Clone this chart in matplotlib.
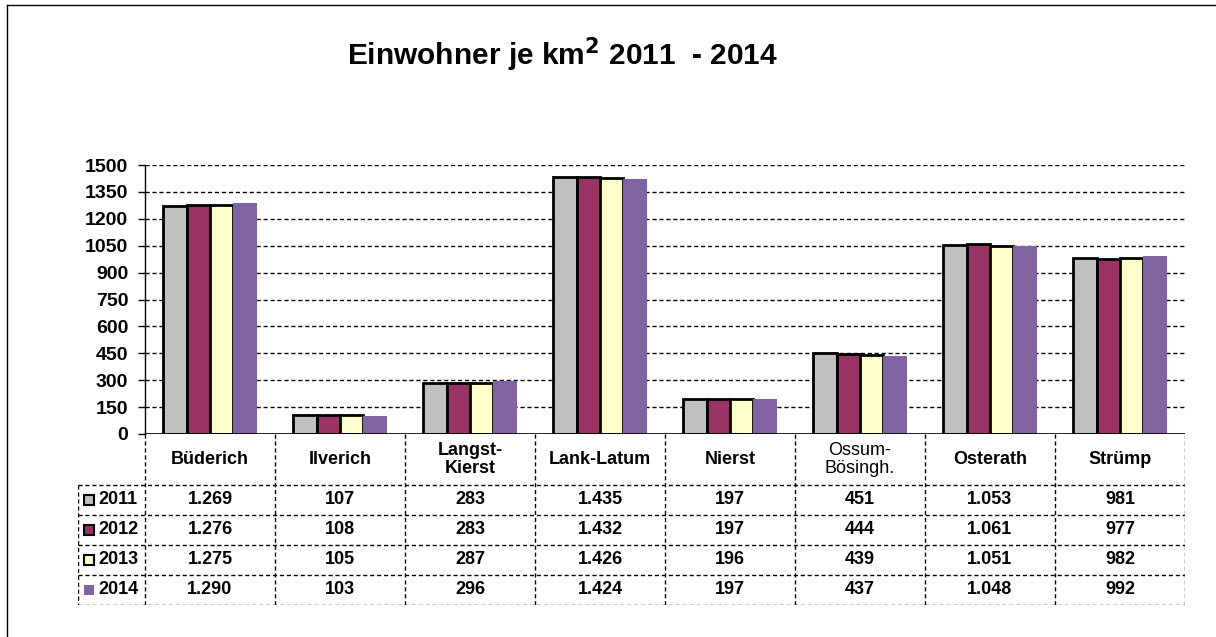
import numpy as np
import matplotlib
matplotlib.use("Agg")
import matplotlib.pyplot as plt
from matplotlib.lines import Line2D
from matplotlib.patches import Rectangle

plt.rcParams['font.family'] = ['Liberation Sans', 'DejaVu Sans']

# data
orte = ["Büderich", "Ilverich", "Langst-\nKierst", "Lank-Latum", "Nierst",
        "Ossum-\nBösingh.", "Osterath", "Strümp"]
jahre = ["2011", "2012", "2013", "2014"]
w2011 = [1269, 107, 283, 1435, 197, 451, 1053, 981]
w2012 = [1276, 108, 283, 1432, 197, 444, 1061, 977]
w2013 = [1275, 105, 287, 1426, 196, 439, 1051, 982]
w2014 = [1290, 103, 296, 1424, 197, 437, 1048, 992]
yticks = [0, 150, 300, 450, 600, 750, 900, 1050, 1200, 1350, 1500]

serien = [w2011, w2012, w2013, w2014]
farben = ["#C0C0C0", "#993366", "#FFFFCC", "#8064A2"]
kanten = ["black", "black", "black", "none"]
dash = (0, (3, 2))

W, H = 1216, 637
fig = plt.figure(figsize=(W / 100, H / 100), dpi=100)

def fx(px):
    return px / W

def fy(py):
    return 1 - py / H

# outer frame (only top & left visible)
fig.add_artist(Line2D([fx(7), fx(7)], [fy(5), fy(640)], color="black", lw=1))
fig.add_artist(Line2D([fx(7), fx(1220)], [fy(5), fy(5)], color="black", lw=1))

fig.text(fx(563), fy(55), "Einwohner je km$^{\\mathbf{2}}$ 2011  - 2014",
         ha="center", va="center", fontsize=21.5, fontweight="bold")

# bar area
x0, x1, ytop, ybot = 145, 1185, 165, 434
ax = fig.add_axes([fx(x0), fy(ybot), fx(x1 - x0), (ybot - ytop) / H])
x = np.arange(len(orte))
bw = 0.18
for i, (vals, c, e) in enumerate(zip(serien, farben, kanten)):
    ax.bar(x + (i - 1.5) * bw, vals, bw, color=c, edgecolor=e,
           linewidth=2 if e != "none" else 0, zorder=3)
ax.set_xlim(-0.5, len(orte) - 0.5)
ax.set_ylim(0, 1500)
ax.set_yticks(yticks)
ax.set_yticklabels([str(t) for t in yticks], fontsize=14, fontweight="bold")
ax.tick_params(axis="y", length=5, width=1, pad=7)
ax.set_xticks([])
for t in yticks[1:]:
    ax.axhline(t, color="black", lw=1, ls=dash, zorder=1)
for s in ["top", "right", "bottom"]:
    ax.spines[s].set_visible(False)
ax.spines["left"].set_linewidth(1)
ax.axhline(0, color="black", lw=1.2, zorder=4)

# data table
header_h, row_h = 51, 30
lx = 78
cw = (x1 - x0) / len(orte)
tab_bot = ybot + header_h + row_h * len(jahre)
tax = fig.add_axes([fx(lx), fy(tab_bot), fx(x1 - lx), (tab_bot - ybot) / H])
tax.set_xlim(lx, x1)
tax.set_ylim(tab_bot - ybot, 0)
tax.axis("off")

lk = dict(color="black", lw=1, ls=dash)
# vertical lines
for k in range(len(orte) + 1):
    xv = x0 + k * cw
    tax.plot([xv, xv], [0, tab_bot - ybot], **lk)
tax.plot([lx, lx], [header_h, tab_bot - ybot], **lk)
# horizontal lines
for r in range(len(jahre) + 1):
    yv = header_h + r * row_h
    tax.plot([lx, x1], [yv, yv], **lk)

for k, name in enumerate(orte):
    cx = x0 + (k + 0.5) * cw
    fw = "normal" if name.startswith("Ossum") else "bold"
    tax.text(cx, header_h / 2, name, ha="center", va="center",
             fontsize=13, fontweight=fw, linespacing=1.1)

def fmt(v):
    return f"{v:,}".replace(",", ".")

for r, (jahr, vals) in enumerate(zip(jahre, serien)):
    cy = header_h + (r + 0.5) * row_h
    tax.add_patch(Rectangle((84, cy - 5), 10, 10, facecolor=farben[r],
                            edgecolor=kanten[r], lw=1.5 if kanten[r] != "none" else 0))
    tax.text(98, cy, jahr, ha="left", va="center", fontsize=13, fontweight="bold")
    for k, v in enumerate(vals):
        tax.text(x0 + (k + 0.5) * cw, cy, fmt(v), ha="center", va="center",
                 fontsize=13, fontweight="bold")

fig.savefig("out.png", dpi=100)
